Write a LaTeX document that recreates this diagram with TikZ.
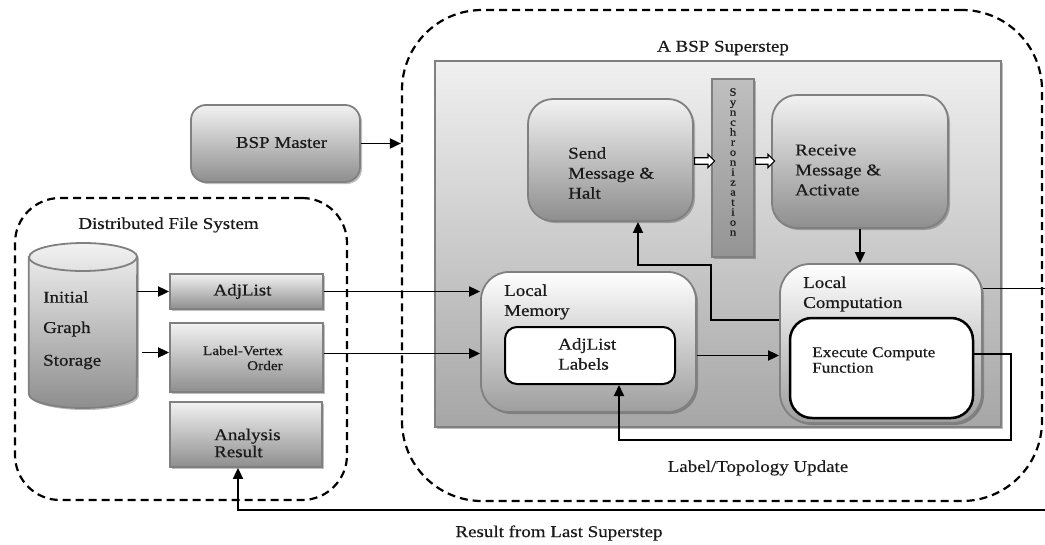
\documentclass[tikz,border=0pt]{standalone}
\usepackage{fontspec}
\setmainfont{Liberation Serif}[FakeStretch=1.15,FakeBold=0.5]
\usetikzlibrary{arrows.meta,shapes.arrows,shadows,calc}
\newcommand\myfs[2]{\fontsize{#1}{#2}\selectfont}
\definecolor{bord}{HTML}{808080}
\definecolor{txt}{HTML}{1A1A1A}
\definecolor{topc}{HTML}{F2F2F2}
\definecolor{botc}{HTML}{8E8E8E}
\definecolor{lbot}{HTML}{9E9E9E}
\definecolor{stop}{HTML}{F0F0F0}
\definecolor{sbot}{HTML}{A6A6A6}
\tikzset{
  shd/.style={drop shadow={shadow xshift=2pt,shadow yshift=-2pt,fill=black,opacity=0.25}},
  dbox/.style={draw=bord,line width=1.8pt,top color=topc,bottom color=botc,inner sep=0pt,shd},
  lbox/.style={draw=bord,line width=1.8pt,top color=white,bottom color=lbot,inner sep=0pt,shd},
  wbox/.style={draw=black,line width=2pt,fill=white,inner sep=0pt},
  region/.style={draw=black,line width=2.2pt,dash pattern=on 8pt off 5pt,inner sep=0pt},
  arr/.style={line width=1.8pt,-{Triangle[length=11pt,width=10pt]}},
  hollow/.style={single arrow,draw=black,line width=1.2pt,fill=white,minimum height=20pt,
    single arrow head extend=3.5pt,inner sep=2.6pt},
  lbl/.style={text=txt,inner sep=0pt,font=\myfs{16.5}{20}},
}
\begin{document}
\begin{tikzpicture}[x=1pt,y=-1pt]
\useasboundingbox (0,0) rectangle (1045,544);
% regions
\node[region,rounded corners=80pt,minimum width=640pt,minimum height=491pt] (bsp) at (722,255.5) {};
\node[region,rounded corners=45pt,minimum width=332pt,minimum height=302pt] (dfs) at (181,349) {};
% stage
\node[draw=bord,line width=1.8pt,top color=stop,bottom color=sbot,inner sep=0pt,shd,
  minimum width=566pt,minimum height=366pt] (stage) at (718,244) {};
% boxes
\node[dbox,rounded corners=15pt,minimum width=169pt,minimum height=77pt] (bspm) at (275.5,143.5) {};
\node[dbox,rounded corners=25pt,minimum width=165pt,minimum height=122pt] (send) at (610.5,160) {};
\node[draw=bord,line width=1.8pt,top color=black!25,bottom color=black!42,inner sep=0pt,shd,
  minimum width=42pt,minimum height=178pt] (sync) at (733,168) {};
\node[dbox,rounded corners=25pt,minimum width=176pt,minimum height=133pt] (recv) at (860,161.5) {};
\node[lbox,rounded corners=28pt,minimum width=215pt,minimum height=140pt] (lmem) at (588.5,342) {};
\node[wbox,rounded corners=12pt,minimum width=170pt,minimum height=57pt] (adjl) at (590,355.5) {};
\node[lbox,rounded corners=30pt,minimum width=202pt,minimum height=159pt] (lcomp) at (881,343.5) {};
\node[wbox,line width=2.5pt,rounded corners=22pt,minimum width=183pt,minimum height=100pt] (exec) at (881.5,368) {};
\node[dbox,minimum width=153pt,minimum height=35pt] (adjlist) at (246.5,291.5) {};
\node[dbox,minimum width=153pt,minimum height=69pt] (lvo) at (246.5,357.5) {};
\node[dbox,minimum width=152pt,minimum height=65pt] (ares) at (246,434.5) {};
% cylinder
\node[inner sep=0pt,minimum width=108pt,minimum height=165pt] (stor) at (83,325.5) {};
\path[draw=bord,line width=1.8pt,top color=topc,bottom color=botc,shd]
  (stor.west |- 0,257) -- (stor.west |- 0,394)
  arc[start angle=180,end angle=0,x radius=54,y radius=14]
  -- (stor.east |- 0,257)
  arc[start angle=0,end angle=-180,x radius=54,y radius=14] -- cycle;
\draw[draw=bord,line width=1.8pt] (stor.west |- 0,257)
  arc[start angle=180,end angle=0,x radius=54,y radius=14];
% hollow arrows
\node[hollow] (ha1) at (703,161) {};
\node[hollow,minimum height=19pt] (ha2) at (763.5,161) {};
% free ends
\coordinate (edgeA) at (1045,288);
\coordinate (edgeB) at (1045,510);
% connectors
\draw[arr] (bspm.east) -- (bspm.east -| bsp.west);
\draw[arr] (stor.east |- adjlist.west) -- (adjlist.west);
\draw[arr] ($(stor.east |- lvo.west)+(5,-5)$) -- ($(lvo.west)+(0,-5)$);
\draw[arr] (adjlist.east) -- (adjlist.east -| lmem.west);
\draw[arr] ($(lvo.east)+(0,-4)$) -- ($(lvo.east -| lmem.west)+(0,-4)$);
\draw[arr] (lmem.east |- adjl.east) -- (lcomp.west |- adjl.east);
\draw[arr] (recv.south) -- (recv.south |- lcomp.north);
\draw[arr] ($(lcomp.west |- exec.north)+(0,3)$) -| (711,265) -| ($(send.south)+(27.5,0)$);
\draw[arr] ($(exec.east)+(0,-14)$) -| (1011,440) -| ($(adjl.south)+(29,0)$);
\draw[line width=1pt] ($(lcomp.east)+(0,-55.5)$) -- (edgeA);
\draw[arr] (edgeB) -| ($(ares.south)+(-8,0)$);
% texts
\node[lbl] (t1) at (723,48) {A BSP Superstep};
\node[lbl] (t2) at (758,468) {Label/Topology Update};
\node[lbl] (t3) at (559,533) {Result from Last Superstep};
\node[lbl] (t4) at (168.5,225) {Distributed File System};
\node[lbl] (t5) at ($(bspm.center)+(6,-1)$) {BSP Master};
\node[lbl,anchor=west] (t6) at (43,297) {Initial};
\node[lbl,anchor=west] (t7) at (43,329) {Graph};
\node[lbl,anchor=west] (t8) at (43,362) {Storage};
\node[lbl] (t9) at ($(adjlist.center)+(-4,0)$) {AdjList};
\node[lbl,font=\myfs{13.3}{15},align=right,anchor=east] (t10) at (283,358) {Label-Vertex\\Order};
\node[lbl,font=\myfs{16.5}{17},align=left,anchor=west] (t11) at (214,443) {Analysis\\Result};
\node[lbl,align=left,anchor=west] (t12) at (568,173) {Send\\Message \&\\Halt};
\node[lbl,align=left,anchor=west] (t13) at (795,170) {Receive\\Message \&\\Activate};
\node[lbl,align=left,anchor=west] (t14) at (504,302) {Local\\Memory};
\node[lbl,align=left,anchor=west] (t15) at (558,354) {AdjList\\Labels};
\node[lbl,align=left,anchor=west] (t16) at (803,294) {Local\\Computation};
\node[lbl,font=\myfs{15}{15.5},align=left,anchor=west] (t17) at (812,360) {Execute Compute\\Function};
\node[lbl,font=\myfs{11}{10}\linespread{1},align=center] (t18) at (733,162) {S\\y\\n\\c\\h\\r\\o\\n\\i\\z\\a\\t\\i\\o\\n};
\end{tikzpicture}
\end{document}
